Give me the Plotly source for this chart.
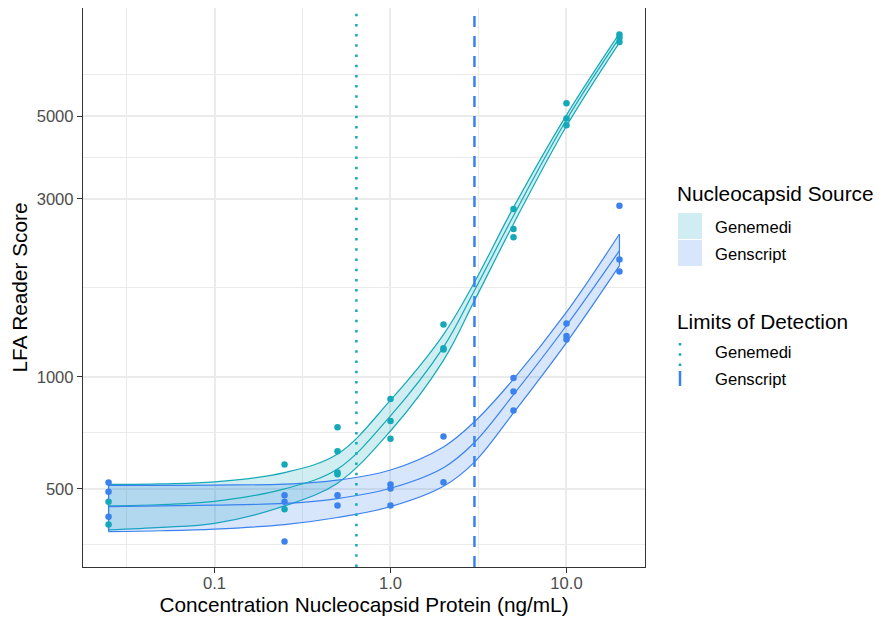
import numpy as np
import plotly.graph_objects as go

# ---------------- data ----------------
sources = ["Genemedi", "Genscript"]

# observed replicates
gm_conc = [0.025, 0.025, 0.25, 0.25, 0.5, 0.5, 0.5, 0.5, 1, 1, 1, 2, 2, 2,
           5, 5, 5, 10, 10, 10, 20, 20, 20]
gm_score = [462, 401, 581, 441, 732, 631, 553, 547, 871, 761, 682, 1381, 1193, 1183,
            2820, 2490, 2366, 5417, 4931, 4730, 8290, 8125, 7905]
gs_conc = [0.025, 0.025, 0.025, 0.25, 0.25, 0.25, 0.5, 0.5, 1, 1, 1, 2, 2,
           5, 5, 5, 10, 10, 10, 20, 20, 20]
gs_score = [520, 491, 421, 481, 462, 361, 481, 451, 514, 501, 451, 691, 521,
            992, 912, 812, 1389, 1285, 1258, 2877, 2062, 1914]

# fitted curves with confidence band
fit_conc = [0.025, 0.05, 0.1, 0.25, 0.5, 1, 2, 3, 5, 10, 20]
gm_fit = [450, 454, 463, 500, 565, 785, 1200, 1703, 2704, 4890, 8125]
gm_upper = [514, 516, 522, 553, 620, 865, 1297, 1793, 2847, 5035, 8340]
gm_lower = [388, 394, 404, 450, 518, 715, 1106, 1600, 2570, 4705, 7880]
gs_fit = [448, 450, 452, 457, 471, 502, 570, 666, 895, 1372, 2179]
gs_upper = [511, 511, 512, 515, 528, 562, 648, 757, 985, 1490, 2415]
gs_lower = [384, 386, 390, 401, 419, 448, 508, 590, 800, 1235, 1987]

# limits of detection
lod_source = ["Genemedi", "Genscript"]
lod_conc = [0.64, 3.0]

x_tickvals = [0.1, 1, 10]
x_ticktext = ["0.1", "1.0", "10.0"]
y_tickvals = [500, 1000, 3000, 5000]
y_ticktext = ["500", "1000", "3000", "5000"]

# ---------------- style ----------------
TEAL = "#14A9B8"
BLUE = "#3B82EE"
TEAL_FILL = "rgba(20,169,184,0.2)"
BLUE_FILL = "rgba(59,130,238,0.2)"
FONT = "Liberation Sans, Arial, sans-serif"

# axis ranges (log10), ggplot-like 5% expansion
xr = [np.log10(min(fit_conc)), np.log10(max(fit_conc))]
xpad = 0.05 * (xr[1] - xr[0])
x_range = [xr[0] - xpad, xr[1] + xpad]
y_all = gm_score + gs_score + gm_upper + gs_upper + gm_lower + gs_lower
yr = [np.log10(min(y_all)), np.log10(max(y_all))]
ypad = 0.05 * (yr[1] - yr[0])
y_range = [yr[0] - ypad, yr[1] + ypad]

# minor breaks: midpoints of major breaks in log space (ggplot style)
def minor_breaks(major, lim):
    b = list(np.log10(major))
    d = np.diff(b)
    b = [b[0] - d[0]] + b + [b[-1] + d[-1]]
    mids = [(b[i] + b[i + 1]) / 2 for i in range(len(b) - 1)]
    return [10 ** m for m in mids if lim[0] <= m <= lim[1]]

x_minor = minor_breaks(x_tickvals, x_range)
y_minor = minor_breaks(y_tickvals, y_range)

fig = go.Figure()

def add_band(conc, lower, upper, color, fill):
    fig.add_trace(go.Scatter(x=conc, y=lower, mode="lines",
                             line=dict(color=color, width=1.2, shape="spline"),
                             showlegend=False, hoverinfo="skip"))
    fig.add_trace(go.Scatter(x=conc, y=upper, mode="lines", fill="tonexty",
                             fillcolor=fill,
                             line=dict(color=color, width=1.2, shape="spline"),
                             showlegend=False, hoverinfo="skip"))
    for i in (0, -1):
        fig.add_trace(go.Scatter(x=[conc[i], conc[i]], y=[lower[i], upper[i]],
                                 mode="lines", line=dict(color=color, width=1.2),
                                 showlegend=False, hoverinfo="skip"))

add_band(fit_conc, gm_lower, gm_upper, TEAL, TEAL_FILL)
add_band(fit_conc, gs_lower, gs_upper, BLUE, BLUE_FILL)

fig.add_trace(go.Scatter(x=fit_conc, y=gm_fit, mode="lines",
                         line=dict(color=TEAL, width=1.2, shape="spline"),
                         showlegend=False))
fig.add_trace(go.Scatter(x=fit_conc, y=gs_fit, mode="lines",
                         line=dict(color=BLUE, width=1.2, shape="spline"),
                         showlegend=False))

fig.add_trace(go.Scatter(x=gm_conc, y=gm_score, mode="markers",
                         marker=dict(color=TEAL, size=6.5), showlegend=False))
fig.add_trace(go.Scatter(x=gs_conc, y=gs_score, mode="markers",
                         marker=dict(color=BLUE, size=6.5), showlegend=False))

# LOD vertical lines spanning the panel
y_span = [10 ** y_range[0], 10 ** y_range[1]]
lod_style = {"Genemedi": (TEAL, "2.5px,7.7px"), "Genscript": (BLUE, "11px,9px")}
for src, c in zip(lod_source, lod_conc):
    col, dash = lod_style[src]
    fig.add_trace(go.Scatter(x=[c, c], y=y_span, mode="lines",
                             line=dict(color=col, width=2.5, dash=dash),
                             showlegend=False, hoverinfo="skip"))

# ---------------- layout ----------------
# page body adds an 8px offset; target panel in page pixels: x 83..645, y 8..567
OFF = 8
L, R, T, B = 83 - OFF, 645 - OFF, 8 - OFF, 567 - OFF
W, H = 881 - OFF, 621 - OFF

fig.update_layout(
    width=W, height=H,
    margin=dict(l=L, r=W - R, t=T, b=H - B, autoexpand=False),
    paper_bgcolor="white", plot_bgcolor="white",
    font=dict(family=FONT, color="black"),
    showlegend=False,
)
axis_common = dict(
    type="log", showline=True, mirror=True, linecolor="#333333", linewidth=1.2,
    ticks="outside", ticklen=5, tickwidth=1.2, tickcolor="#333333",
    tickfont=dict(family=FONT, size=16.6, color="#4D4D4D"),
    showgrid=True, gridcolor="#EBEBEB", gridwidth=2, zeroline=False,
    tickmode="array", automargin=False,
)
fig.update_xaxes(
    **axis_common, range=x_range, tickvals=x_tickvals, ticktext=x_ticktext,
    ticklabelstandoff=-4,
    minor=dict(tickmode="array", tickvals=x_minor, showgrid=True,
               gridcolor="#EBEBEB", gridwidth=1, ticks=""),
    title=dict(text="Concentration Nucleocapsid Protein (ng/mL)",
               font=dict(family=FONT, size=20.8, color="black"), standoff=4),
)
fig.update_yaxes(
    **axis_common, range=y_range, tickvals=y_tickvals, ticktext=y_ticktext,
    minor=dict(tickmode="array", tickvals=y_minor, showgrid=True,
               gridcolor="#EBEBEB", gridwidth=1, ticks=""),
    title=dict(text="LFA Reader Score",
               font=dict(family=FONT, size=20.8, color="black"), standoff=4),
)

# ---------------- manual legend (page pixel positions) ----------------
def px(x):
    return (x - OFF - L) / (R - L)

def py(y):
    return (B - (y - OFF)) / (B - T)

shapes = []
annotations = []

def text(x, y, s, size, color="black"):
    annotations.append(dict(x=px(x), y=py(y), xref="paper", yref="paper",
                            text=s, showarrow=False, xanchor="left", yanchor="middle",
                            font=dict(family=FONT, size=size, color=color)))

text(675, 194, "Nucleocapsid Source", 20.8)
fills = {"Genemedi": "#D0EEF1", "Genscript": "#D8E6FC"}
for i, src in enumerate(sources):
    y0 = 213 + 27 * i
    shapes.append(dict(type="rect", xref="paper", yref="paper",
                       x0=px(678), x1=px(702), y0=py(y0), y1=py(y0 + 26),
                       fillcolor=fills[src], line=dict(width=0)))
    text(713, y0 + 14, src, 16.6)

text(675, 321, "Limits of Detection", 20.8)
shapes.append(dict(type="line", xref="paper", yref="paper",
                   x0=px(680), x1=px(680), y0=py(343), y1=py(367),
                   line=dict(color=TEAL, width=2.5, dash="2.5px,7.7px")))
shapes.append(dict(type="line", xref="paper", yref="paper",
                   x0=px(680), x1=px(680), y0=py(371), y1=py(386),
                   line=dict(color=BLUE, width=2.5)))
text(713, 353, lod_source[0], 16.6)
text(713, 380, lod_source[1], 16.6)

fig.update_layout(shapes=shapes, annotations=annotations)

fig.write_html("out.html")
